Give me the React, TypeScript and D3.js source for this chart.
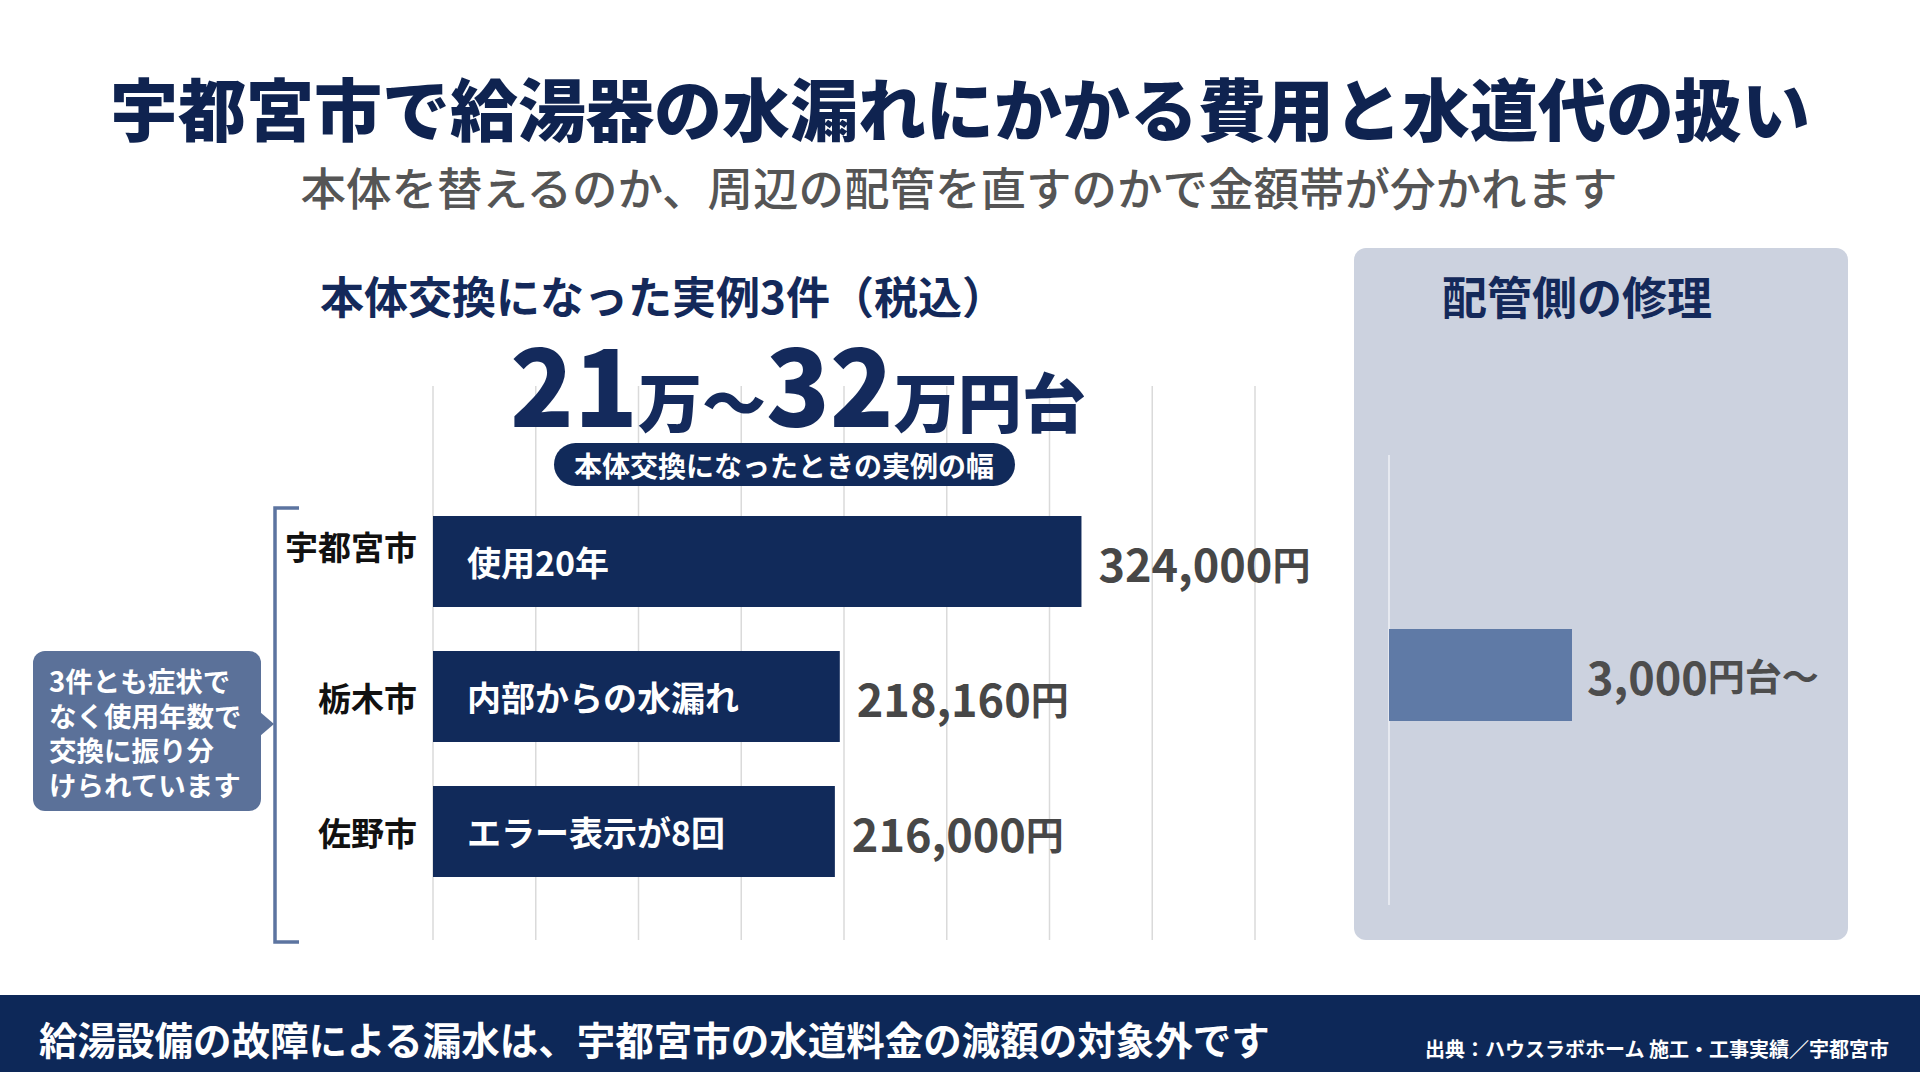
import React, { FC, useMemo } from "react";
import * as d3 from "d3";

const W = 1920;
const H = 1072;
const FONT = '"Noto Sans CJK JP", "Noto Sans", sans-serif';

const navy = "#112a5a";
const slate = "#5b7199";

// data
const cities = ["宇都宮市", "栃木市", "佐野市"];
const caseNotes = ["使用20年", "内部からの水漏れ", "エラー表示が8回"];
const caseCosts = [324000, 218160, 216000];
const costDomain = [40000, 400000];
const gridStep = 45000;

const pipeLabels = ["配管側"];
const pipeCosts = [3000];
const pipeDomain = [0, 6000];

const calloutLines = ["3件とも症状で", "なく使用年数で", "交換に振り分", "けられています"];

const fmt = d3.format(",");

const App: FC = () => {
    const x = useMemo(() => d3.scaleLinear(costDomain, [433, 1255]), []);
    const y = useMemo(
        () => d3.scaleBand(cities, [494, 899]).paddingInner(0.326).paddingOuter(0.163),
        []
    );
    const gridValues = useMemo(() => d3.range(costDomain[0], costDomain[1] + 1, gridStep), []);

    const px = useMemo(() => d3.scaleLinear(pipeDomain, [1389, 1755]), []);
    const py = useMemo(() => d3.scaleBand(pipeLabels, [629, 721]), []);

    return (
        <svg
            width={W}
            height={H}
            style={{ position: "absolute", top: 0, left: 0, display: "block", background: "#fff" }}
            fontFamily={FONT}
        >
            {/* heading */}
            <text x={960} y={106} textAnchor="middle" dominantBaseline="central" fontSize={68} fontWeight={900} fill="#0f2350">
                宇都宮市で給湯器の水漏れにかかる費用と水道代の扱い
            </text>
            <text x={959} y={186} textAnchor="middle" dominantBaseline="central" fontSize={45.5} fontWeight={500} fill="#555">
                本体を替えるのか、周辺の配管を直すのかで金額帯が分かれます
            </text>

            {/* grid */}
            <g>
                {gridValues.map((d: number) => (
                    <line key={d} x1={x(d)} x2={x(d)} y1={386} y2={940} stroke="#dadada" strokeWidth={1.5} />
                ))}
            </g>

            <text x={663} y={295} textAnchor="middle" dominantBaseline="central" fontSize={44} fontWeight={700} fill="#14295a">
                本体交換になった実例3件（税込）
            </text>

            <text x={510} y={427} fontWeight={900} fill="#142a5c">
                <tspan fontSize={105}>21</tspan>
                <tspan fontSize={64}>万～</tspan>
                <tspan fontSize={105}>32</tspan>
                <tspan fontSize={64}>万円台</tspan>
            </text>

            <rect x={554} y={443} width={461} height={43} rx={21.5} fill={navy} />
            <text x={784} y={465} textAnchor="middle" dominantBaseline="central" fontSize={28} fontWeight={700} fill="#fff">
                本体交換になったときの実例の幅
            </text>

            {/* bars */}
            <g>
                {caseCosts.map((v: number, i: number) => {
                    const by = y(cities[i]) as number;
                    const cy = by + y.bandwidth() / 2;
                    return (
                        <g key={cities[i]}>
                            <rect x={x(costDomain[0])} y={by} width={x(v) - x(costDomain[0])} height={y.bandwidth()} fill={navy} />
                            <text x={x(costDomain[0]) + 34} y={cy} dominantBaseline="central" fontSize={34} fontWeight={700} fill="#fff">
                                {caseNotes[i]}
                            </text>
                            <text x={x(v) + 17} y={cy} dominantBaseline="central" fontWeight={700} fill="#474747">
                                <tspan fontSize={45}>{fmt(v)}</tspan>
                                <tspan fontSize={38}>円</tspan>
                            </text>
                            <text x={417} y={cy - (i === 0 ? 16 : 0)} textAnchor="end" dominantBaseline="central" fontSize={33} fontWeight={700} fill="#111">
                                {cities[i]}
                            </text>
                        </g>
                    );
                })}
            </g>

            {/* bracket + callout */}
            <path d="M299,508 H275 V942 H299" fill="none" stroke="#5c74a0" strokeWidth={3.5} />
            <rect x={33} y={651} width={228} height={160} rx={12} fill={slate} />
            <path d="M260,712 L274,724 L260,736 Z" fill={slate} />
            {calloutLines.map((d, i) => (
                <text key={d} x={49} y={680 + i * 34.6} dominantBaseline="central" fontSize={27.5} fontWeight={700} fill="#fff">
                    {d}
                </text>
            ))}

            {/* pipe repair panel */}
            <rect x={1354} y={248} width={494} height={692} rx={12} fill="#ccd2df" />
            <text x={1577} y={295} textAnchor="middle" dominantBaseline="central" fontSize={45} fontWeight={700} fill="#14295a">
                配管側の修理
            </text>
            <line x1={px(0)} x2={px(0)} y1={455} y2={905} stroke="#e6e9f0" strokeWidth={2} />
            {pipeCosts.map((v: number, i: number) => {
                const by = py(pipeLabels[i]) as number;
                const cy = by + py.bandwidth() / 2;
                return (
                    <g key={pipeLabels[i]}>
                        <rect x={px(0)} y={by} width={px(v) - px(0)} height={py.bandwidth()} fill="#5f7aa6" />
                        <text x={px(v) + 15} y={cy} dominantBaseline="central" fontWeight={700} fill="#4d4d4d">
                            <tspan fontSize={45}>{fmt(v)}</tspan>
                            <tspan fontSize={37}>円台～</tspan>
                        </text>
                    </g>
                );
            })}

            {/* footer */}
            <rect x={0} y={995} width={W} height={H - 995} fill="#0d2858" />
            <text x={39} y={1038} dominantBaseline="central" fontSize={38.5} fontWeight={700} fill="#fff">
                給湯設備の故障による漏水は、宇都宮市の水道料金の減額の対象外です
            </text>
            <text x={1889} y={1048} textAnchor="end" dominantBaseline="central" fontSize={20} fontWeight={700} fill="#fff">
                出典：ハウスラボホーム 施工・工事実績／宇都宮市
            </text>
        </svg>
    );
};

export default App;
